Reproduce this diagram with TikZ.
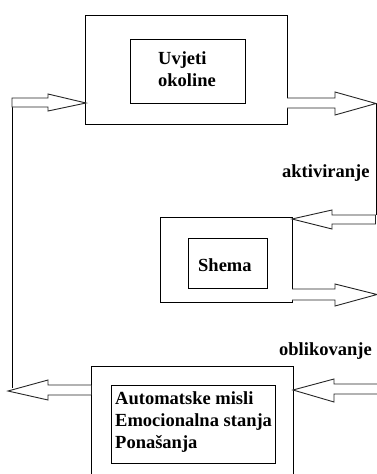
\documentclass[tikz,border=0pt]{standalone}
\usepackage{fontspec}
\setmainfont{Liberation Serif}
\begin{document}
\begin{tikzpicture}[x=1pt,y=-1pt,
  box/.style={draw=black,line width=1pt},
  blk/.style={draw=black!85,line width=0.9pt,fill=white,line join=miter},
  wire/.style={draw=black,line width=1pt},
  lbl/.style={font=\bfseries\fontsize{18.5}{22}\selectfont,inner sep=0pt,anchor=base west,text=black}]
\useasboundingbox (0,0) rectangle (377,474);
\clip (0,0) rectangle (377,474);
% boxes
\draw[box] (85,15) rectangle (287,124);
\draw[box] (130,39) rectangle (245,103);
\draw[box] (160,217) rectangle (292,302);
\draw[box] (188,238) rectangle (267,288);
\draw[box] (91,366) rectangle (293,490);
\draw[box] (111,385) rectangle (275,463);
% labels
\node[lbl] (u1) at (158,64) {Uvjeti};
\node[lbl] (u2) at (158,86) {okoline};
\node[lbl] (sh) at (198,271) {Shema};
\node[lbl] (akt) at (282,177) {aktiviranje};
\node[lbl] (obl) at (279,355) {oblikovanje};
\node[lbl] (a1) at (115,404) {Automatske misli};
\node[lbl] (a2) at (115,426.5) {Emocionalna stanja};
\node[lbl] (a3) at (115,448.5) {Ponašanja};
% feedback wires
\draw[wire] (12,98) -- (12,388);
\draw[wire] (376,103) -- (376,215);
% block arrows
\draw[blk] (12,98) -- (48,98) -- (48,94) -- (86,103) -- (48,111) -- (48,107) -- (12,107) -- cycle;
\draw[blk] (287,98) -- (335,98) -- (335,92) -- (376,103.5) -- (335,115) -- (335,108) -- (287,108);
\draw[blk] (375.5,215) -- (332,215) -- (332,210) -- (292,219) -- (332,229) -- (332,224) -- (375.5,224) -- cycle;
\draw[blk] (292,289) -- (335,289) -- (335,284) -- (377,294.5) -- (335,306) -- (335,300) -- (292,300);
\draw[blk] (91,385) -- (48,385) -- (48,380) -- (8,391) -- (48,400) -- (48,395) -- (91,395);
\draw[blk] (380,384) -- (334,384) -- (334,379) -- (293,390) -- (334,402) -- (334,394) -- (380,394);
\end{tikzpicture}
\end{document}
